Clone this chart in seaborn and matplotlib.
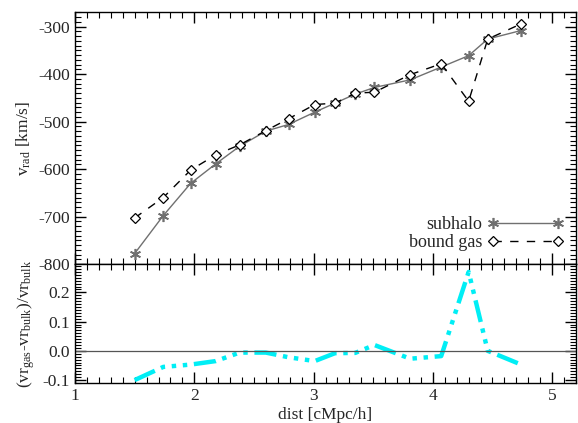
import numpy as np
import pandas as pd
import matplotlib
matplotlib.use("Agg")
import matplotlib.pyplot as plt
import seaborn as sns
from matplotlib.ticker import MultipleLocator

# ---- data ----
dist = [1.50, 1.74, 1.97, 2.18, 2.38, 2.60, 2.79, 3.01, 3.18, 3.35, 3.51, 3.81, 4.07, 4.30, 4.46, 4.74]
v_subhalo = [-778, -698, -630, -589, -552, -520, -506, -480, -461, -442, -428, -412, -385, -361, -326, -308]
v_gas = [-703, -660, -602, -570, -549, -519, -494, -464, -461, -440, -438, -401, -378, -457, -326, -294]
ratio = [-0.100, -0.055, -0.047, -0.035, -0.006, -0.006, -0.022, -0.035, -0.008, -0.007, 0.020, -0.027, -0.018, 0.270, 0.000, -0.047]

xticks = [1, 2, 3, 4, 5]
yticks_top = [-800, -700, -600, -500, -400, -300]
yticks_bot = [-0.1, 0.0, 0.1, 0.2]

sns.set_theme(style="ticks")
plt.rcParams['font.family'] = ['Liberation Serif', 'DejaVu Serif']
plt.rcParams['mathtext.fontset'] = 'custom'
plt.rcParams['mathtext.rm'] = 'Liberation Serif'
plt.rcParams['mathtext.it'] = 'Liberation Serif'
plt.rcParams['font.size'] = 12.5

W, H = 578, 423
fig = plt.figure(figsize=(W / 100, H / 100), dpi=100)
L, R = 75, 576
ax1 = fig.add_axes([L / W, 1 - 264 / H, (R - L) / W, (264 - 12) / H])
ax2 = fig.add_axes([L / W, 1 - 383 / H, (R - L) / W, (383 - 264) / H])

df = pd.DataFrame({"dist": dist, "sub": v_subhalo, "gas": v_gas, "ratio": ratio})

aster = (6, 2, 0)
sns.lineplot(data=df, x="dist", y="sub", ax=ax1, color="#707070", lw=1.0,
             marker=aster, markersize=8, markeredgewidth=1.2,
             markeredgecolor="#707070", label="subhalo", sort=False)
sns.lineplot(data=df, x="dist", y="gas", ax=ax1, color="black", lw=1.0,
             linestyle=(0, (6, 6)), marker="D", markersize=4.8,
             markerfacecolor="white", markeredgecolor="black",
             markeredgewidth=0.9, label="bound gas", sort=False)

sns.lineplot(data=df, x="dist", y="ratio", ax=ax2, color="#00eef5", lw=3.2,
             linestyle=(0, (5, 1.5, 1, 1.5, 1, 1.5, 1, 1.5)), sort=False)
ax2.axhline(0.0, color="#555555", lw=0.9)

for ax in (ax1, ax2):
    ax.set_xlim(1, 5.2)
    ax.xaxis.set_major_locator(MultipleLocator(1))
    ax.xaxis.set_minor_locator(MultipleLocator(0.1))
    ax.tick_params(which="both", direction="in", top=True, right=True,
                   color="black", labelsize=12.5)
    ax.tick_params(which="major", length=8, width=1.0)
    ax.tick_params(which="minor", length=4, width=0.8)
    for s in ax.spines.values():
        s.set_linewidth(1.0)
        s.set_color("black")

ax1.set_ylim(-800, -269)
ax1.set_yticks(yticks_top)
ax1.yaxis.set_minor_locator(MultipleLocator(10))
ax1.set_xticks(xticks)
ax1.set_xticklabels([])
ax1.set_xlabel("")
ax1.set_ylabel(r"v$_{\mathrm{rad}}$ [km/s]", fontsize=12.5)

ax2.set_ylim(-0.11, 0.297)
ax2.set_yticks(yticks_bot)
ax2.set_yticklabels(["-0.1", "0.0", "0.1", "0.2"])
ax2.yaxis.set_minor_locator(MultipleLocator(0.01))
ax2.set_xticks(xticks)
ax2.set_xticklabels([str(t) for t in xticks])
ax2.set_xlabel("dist [cMpc/h]", fontsize=12.5, labelpad=2)
ax2.set_ylabel(r"(vr$_{\mathrm{gas}}$-vr$_{\mathrm{bulk}}$)/vr$_{\mathrm{bulk}}$", fontsize=12.5)

ax1.set_yticklabels([str(t) for t in yticks_top])

ax1.legend(loc="lower right", frameon=False, markerfirst=False, numpoints=2,
           handlelength=4.2, handletextpad=0.3, labelspacing=0.05,
           borderaxespad=0.3, fontsize=13)

fig.align_ylabels([ax1, ax2])
fig.savefig("out.png", dpi=100)
